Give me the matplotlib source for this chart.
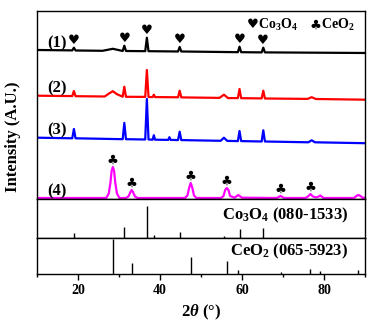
import matplotlib
matplotlib.use("Agg")
import matplotlib.pyplot as plt
import numpy as np

plt.rcParams['font.family'] = ['Liberation Serif', 'DejaVu Sans']
plt.rcParams['font.weight'] = 'bold'
plt.rcParams['mathtext.fontset'] = 'custom'
plt.rcParams['mathtext.rm'] = 'Liberation Serif:bold'
plt.rcParams['mathtext.it'] = 'Liberation Serif:italic:bold'
plt.rcParams['mathtext.bf'] = 'Liberation Serif:bold'

# XRD patterns (intensity in arbitrary units)
c1_x = [10, 18.6, 19.0, 19.4, 26.0, 28.5, 30.9, 31.3, 31.7, 36.4, 36.8, 37.2,
        44.4, 44.8, 45.2, 59.0, 59.4, 59.8, 64.8, 65.2, 65.6, 90]
c1_y = [0, -0.4, 2.3, -0.5, -0.8, 1.2, -1.0, 4.3, -1.0, -1.2, 12.3, -1.2,
        -1.5, 3.0, -1.5, -2.2, 3.3, -2.2, -2.4, 2.3, -2.4, -3.0]

c2_x = [10, 18.6, 19.0, 19.4, 26.5, 27.5, 28.5, 29.5, 30.9, 31.3, 31.7,
        36.4, 36.8, 37.2, 38.2, 38.5, 38.8, 44.4, 44.8, 45.2, 54.5, 55.6, 56.6,
        59.0, 59.4, 59.8, 64.8, 65.2, 65.6, 76.0, 77.0, 78.0, 90]
c2_y = [0, -0.4, 4.7, -0.5, -0.8, 2.0, 4.5, 1.5, -1.0, 9.0, -1.1,
        -1.2, 25.7, -1.3, -1.4, 1.0, -1.4, -1.6, 5.0, -1.7, -2.2, 1.0, -2.4,
        -2.4, 6.7, -2.5, -2.7, 5.0, -2.8, -3.2, -1.5, -3.3, -4.0]

c3_x = [10, 18.6, 19.0, 19.4, 30.9, 31.3, 31.7, 36.4, 36.8, 37.2, 38.2, 38.5,
        38.8, 42.0, 42.3, 42.6, 44.4, 44.8, 45.2, 54.8, 55.6, 56.4, 59.0, 59.4,
        59.8, 64.8, 65.2, 65.6, 76.2, 77.0, 77.8, 90]
c3_y = [0, -0.6, 8.7, -0.6, -1.5, 14.8, -1.5, -1.8, 38.7, -1.8, -2.0, 2.5,
        -2.0, -2.2, 0.5, -2.2, -2.4, 6.0, -2.4, -3.1, 0.0, -3.2, -3.4, 6.7,
        -3.4, -3.8, 7.4, -3.8, -4.6, -2.6, -4.6, -5.5]

c4_x = [10, 26.9, 27.5, 27.9, 28.2, 28.5, 28.8, 29.1, 29.5, 30.1, 31.7, 32.3,
        32.8, 33.1, 33.4, 33.9, 34.5, 46.1, 46.7, 47.1, 47.5, 47.9, 48.3, 48.9,
        54.9, 55.5, 55.9, 56.3, 56.7, 57.1, 58.2, 59.1, 60.0, 68.5, 69.4, 70.3,
        75.5, 76.1, 76.7, 77.3, 77.9, 78.4, 79.1, 79.9, 87.3, 87.9, 88.4, 88.9,
        89.5, 90]
c4_y = [0, 0, 4.5, 15, 27, 31, 27, 15, 4.5, 0, 0, 1.5,
        6, 8, 6, 1.5, 0, 0, 2.5, 10, 15, 10, 2.5, 0,
        0, 2, 8, 10, 8, 2, 0.3, 3, 0.3, 0, 2, 0,
        0, 1.5, 4, 1.5, 0.8, 0.8, 2.5, 0, 0, 2, 3, 2,
        0, 0.5]

# reference cards
co_pos = [19.0, 31.3, 36.8, 38.5, 44.8, 55.7, 59.4, 65.2]
co_int = [17, 33, 100, 9, 19, 7, 27, 31]
ce_pos = [28.5, 33.1, 47.5, 56.3, 59.1, 69.4, 76.7, 79.1, 88.4]
ce_int = [100, 33, 48, 37, 12, 5, 15, 9, 11]

heart_pos = [19.0, 31.3, 36.8, 44.8, 59.4, 65.2]
club_pos = [28.5, 33.1, 47.5, 56.3, 69.4, 76.7]

curves = [(c1_x, c1_y, 'black', '(1)', 149),
          (c2_x, c2_y, 'red', '(2)', 103.3),
          (c3_x, c3_y, 'blue', '(3)', 61.3),
          (c4_x, c4_y, 'magenta', '(4)', 1)]

fig = plt.figure(figsize=(3.8, 3.25), dpi=100)
ax = fig.add_axes([0.0974, 0.3877, 0.863, 0.5785])
ax2 = fig.add_axes([0.0974, 0.2677, 0.863, 0.12], sharex=ax)
ax3 = fig.add_axes([0.0974, 0.1569, 0.863, 0.1108], sharex=ax)

for x, y, col, lab, off in curves:
    ax.plot(x, np.array(y) + off, color=col, lw=1.6)
    ax.text(12.4, off + 7, lab, fontsize=12, fontweight='bold', va='center')

sym = ['DejaVu Sans']
for p in heart_pos:
    yy = np.interp(p, c1_x, c1_y) + 149 + 7.5
    ax.text(p, yy, '\u2665', family=sym, fontsize=9.5, ha='center', va='center')
for p in club_pos:
    yy = np.interp(p, c4_x, c4_y) + 1 + 6.5
    ax.text(p, yy, '\u2663', family=sym, fontsize=9.5, ha='center', va='center')

ax.text(62.7, 174, '\u2665', family=sym, fontsize=9.5, ha='center', va='center')
ax.text(64.0, 174, r'Co$_3$O$_4$', fontsize=10, va='center')
ax.text(78.0, 174, '\u2663', family=sym, fontsize=9.5, ha='center', va='center')
ax.text(79.3, 174, r'CeO$_2$', fontsize=10, va='center')

ax.set_xlim(10, 90)
ax.set_ylim(0, 188)
ax.set_ylabel('Intensity (A.U.)', fontsize=12, fontweight='bold')
ax.yaxis.set_label_coords(-0.05, 0.33)
ax.set_yticks([])
ax.tick_params(bottom=False, labelbottom=False)

ax2.vlines(co_pos, 0, co_int, color='black', lw=1)
ax2.set_ylim(0, 122)
ax2.set_yticks([])
ax2.tick_params(bottom=False, labelbottom=False)
ax2.text(0.948, 0.59, r'Co$_3$O$_4$ (080-1533)', transform=ax2.transAxes,
         fontsize=12, ha='right', va='center')

ax3.vlines(ce_pos, 0, ce_int, color='black', lw=1)
ax3.set_ylim(0, 104)
ax3.set_yticks([])
ax3.text(0.948, 0.62, r'CeO$_2$ (065-5923)', transform=ax3.transAxes,
         fontsize=12, ha='right', va='center')
ax3.set_xticks([20, 40, 60, 80])
ax3.set_xticks([10, 30, 50, 70, 90], minor=True)
ax3.tick_params(which='major', direction='out', length=4, width=1,
                labelsize=10, pad=3)
ax3.tick_params(which='minor', direction='out', length=2.2, width=1)
ax3.set_xlabel(r'2$\theta$ (°)', fontsize=12, fontweight='bold', labelpad=4)
for lbl in ax3.get_xticklabels():
    lbl.set_fontweight('bold')

for a in (ax, ax2, ax3):
    for s in a.spines.values():
        s.set_linewidth(1)

fig.savefig('out.png', dpi=100)
